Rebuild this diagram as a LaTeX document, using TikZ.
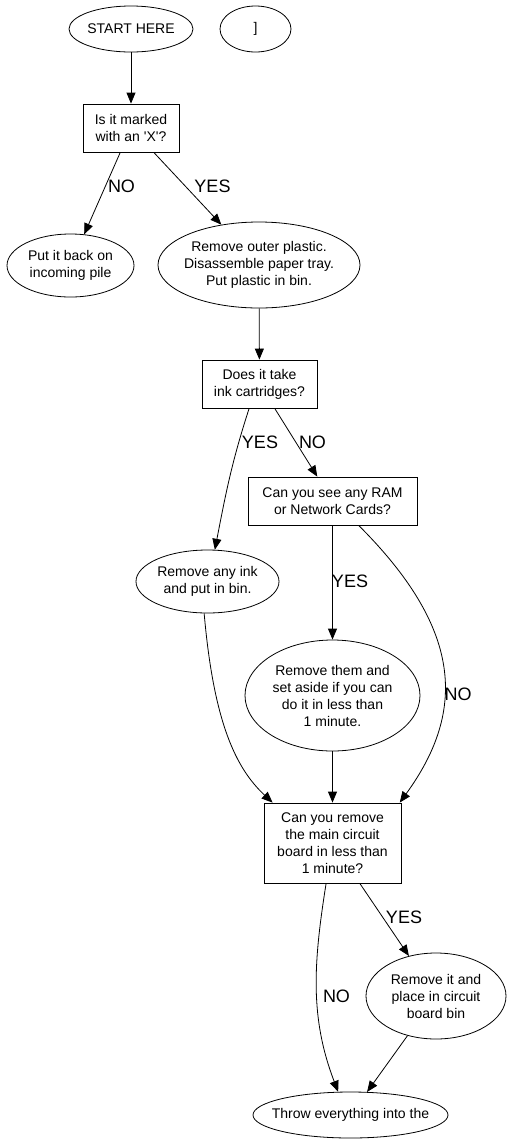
\documentclass[tikz,border=0pt]{standalone}
\usepackage{fontspec}
\setmainfont{Liberation Sans}[Ligatures=TeXOff]
\usepackage{tikz}
\usetikzlibrary{arrows.meta,shapes.geometric}

\begin{document}
\begin{tikzpicture}[x=1pt, y=-1pt,
  oval/.style={draw, ellipse, line width=0.8pt, inner xsep=-14pt, inner ysep=0pt, align=center, font=\fontsize{14}{17}\selectfont},
  box/.style={draw, rectangle, line width=0.8pt, inner sep=3pt, align=center, font=\fontsize{14}{17}\selectfont},
  edge/.style={line width=0.8pt, -{Triangle[length=11pt, width=9pt]}},
  lbl/.style={inner sep=0pt, font=\fontsize{18}{20}\selectfont}]
\useasboundingbox (0,0) rectangle (511,1144);
% nodes
\node[oval, minimum width=124pt, minimum height=46pt] (start) at (131,29) {START HERE};
\node[oval, minimum width=71pt, minimum height=46pt] (bracket) at (255.5,29) {]};
\node[box, minimum width=96pt, minimum height=48pt] (marked) at (131,128) {Is it marked\\with an 'X'?};
\node[oval, minimum width=127pt, minimum height=63pt] (back) at (70.5,265.5) {Put it back on\\incoming pile};
\node[oval, minimum width=202pt, minimum height=86pt] (plastic) at (259,265) {Remove outer plastic.\\Disassemble paper tray.\\Put plastic in bin.};
\node[box, minimum width=115pt, minimum height=48pt] (cartridge) at (259.5,384) {Does it take\\ink cartridges?};
\node[box, minimum width=169pt, minimum height=48pt] (cards) at (332.5,501) {Can you see any RAM\\or Network Cards?};
\node[oval, minimum width=143pt, minimum height=63pt] (inkbin) at (207.5,581.5) {Remove any ink\\and put in bin.};
\node[oval, minimum width=175pt, minimum height=111pt] (aside) at (332.5,695.5) {Remove them and\\set aside if you can\\do it in less than\\1 minute.};
\node[box, minimum width=137pt, minimum height=80pt] (board) at (332.5,843) {Can you remove\\the main circuit\\board in less than\\1 minute?};
\node[oval, minimum width=140pt, minimum height=86pt] (pcb) at (436,996) {Remove it and\\place in circuit\\board bin};
\node[oval, minimum width=195pt, minimum height=46pt] (throw) at (350.5,1115) {Throw everything into the};
% connectors
\draw[edge] (start) -- (marked);
\draw[edge] (marked) -- (back);
\draw[edge] (marked) -- (plastic);
\draw[edge] (plastic) -- (cartridge);
\draw[edge] (cartridge.247) to[out=252, in=79] (inkbin.77);
\draw[edge] (cartridge) -- (cards);
\draw[edge] (cards) -- (aside);
\draw[edge] (cards.317) to[out=315, in=54, out distance=144pt, in distance=116pt] (board.31);
\draw[edge] (inkbin.264) to[out=275, in=137, out distance=110pt, in distance=50pt] (board.146);
\draw[edge] (aside) -- (board);
\draw[edge] (board.261) to[out=261, in=111, out distance=80pt, in distance=80pt] (throw.118);
\draw[edge] (board) -- (pcb);
\draw[edge] (pcb) -- (throw);
% labels
\node[lbl] (noBack) at (121.5,186) {NO};
\node[lbl] (yesPlastic) at (212.5,186) {YES};
\node[lbl] (yesInk) at (260,442) {YES};
\node[lbl] (noCards) at (312.5,442) {NO};
\node[lbl] (yesAside) at (350,581) {YES};
\node[lbl] (noBoard) at (458,694) {NO};
\node[lbl] (yesPcb) at (404,917) {YES};
\node[lbl] (noThrow) at (336.5,996) {NO};
\end{tikzpicture}
\end{document}
